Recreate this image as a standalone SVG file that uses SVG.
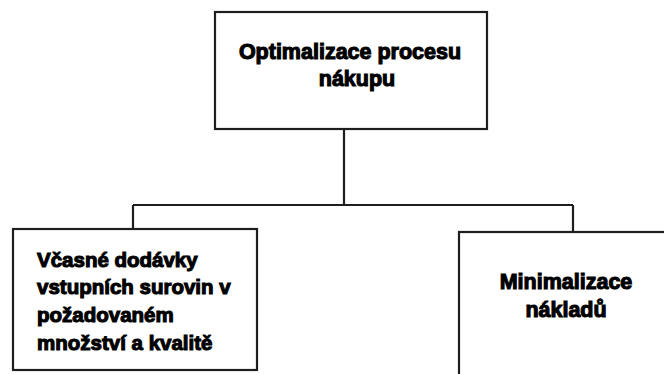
<svg xmlns="http://www.w3.org/2000/svg" width="664" height="374" viewBox="0 0 664 374">
<style>
.box{fill:#fff;stroke:#1e1e1e;stroke-width:2.2}
.conn{fill:none;stroke:#1e1e1e;stroke-width:2.2}
.t{font-family:"Liberation Sans",Arial,sans-serif;font-weight:bold;font-size:21.5px;fill:#000;stroke:#000;stroke-width:1.1}
.s{font-size:20.5px}
</style>
<rect width="664" height="374" fill="#fff"/>
<g id="connectors">
<path class="conn" d="M344,129 V205 M133,205 H573 M133,205 V229 M573,205 V232"/>
</g>
<g id="node-top">
<rect class="box" x="215" y="12" width="272" height="117"/>
<text class="t" x="350" y="59" text-anchor="middle">Optimalizace procesu</text>
<text class="t" x="357" y="86" text-anchor="middle">nákupu</text>
</g>
<g id="node-left">
<rect class="box" x="13" y="229" width="244" height="141"/>
<text class="t s" x="37" y="267">Včasné dodávky</text>
<text class="t s" x="37" y="294">vstupních surovin v</text>
<text class="t s" x="37" y="322">požadovaném</text>
<text class="t s" x="37" y="350">množství a kvalitě</text>
</g>
<g id="node-right">
<rect class="box" x="459" y="232" width="240" height="150"/>
<text class="t" x="566" y="289" text-anchor="middle">Minimalizace</text>
<text class="t" x="566" y="317" text-anchor="middle">nákladů</text>
</g>
</svg>
